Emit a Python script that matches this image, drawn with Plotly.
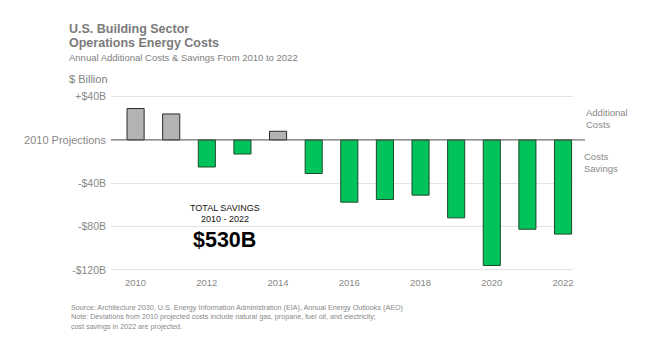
import plotly.graph_objects as go

years = list(range(2010, 2023))
values = [29, 24, -25, -13, 8, -31, -57.5, -55, -51, -72, -116, -82.5, -87]
y_tick_vals = [40, 0, -40, -80, -120]
y_tick_text = ["+$40B", "<span style='font-size:11px'>2010 Projections</span>", "-$40B", "-$80B", "-$120B"]
x_tick_vals = [2010, 2012, 2014, 2016, 2018, 2020, 2022]

GRAY = "#b3b3b3"
GREEN = "#00c35c"
fills = [GRAY if v > 0 else GREEN for v in values]
edges = ["#2b2b2b" if v > 0 else "#1c4a2a" for v in values]

FONT = "Arial, Liberation Sans, sans-serif"

fig = go.Figure(go.Bar(
    x=years, y=values, width=0.48,
    marker=dict(color=fills, line=dict(color=edges, width=1)),
    hoverinfo="skip",
))

annotations = [
    dict(text="<b>U.S. Building Sector</b>", x=-0.0952, y=1.374, font=dict(size=12.5, color="#7a7a7a")),
    dict(text="<b>Operations Energy Costs</b>", x=-0.0952, y=1.294, font=dict(size=12.5, color="#7a7a7a")),
    dict(text="Annual Additional Costs &amp; Savings From 2010 to 2022", x=-0.0952, y=1.212, font=dict(size=9.5, color="#808080")),
    dict(text="$ Billion", x=-0.0952, y=1.09, font=dict(size=11, color="#808080")),
    dict(text="Additional<br>Costs", x=1.024, y=0.87, font=dict(size=9.5, color="#888888")),
    dict(text="Costs<br>Savings", x=1.020, y=0.62, font=dict(size=9.5, color="#888888")),
    dict(text="Source: Architecture 2030, U.S. Energy Information Administration (EIA), Annual Energy Outlooks (AEO)<br>"
              "Note: Deviations from 2010 projected costs include natural gas, propane, fuel oil, and electricity;<br>"
              "cost savings in 2022 are projected.",
         x=-0.091, y=-0.162, yanchor="top", font=dict(size=7.2, color="#888888")),
]
for a in annotations:
    a.setdefault("yanchor", "middle")
    a.update(xref="paper", yref="paper", xanchor="left", align="left", showarrow=False)

annotations += [
    dict(text="TOTAL SAVINGS", x=2012.51, y=-62.8, font=dict(size=9, color="#111111")),
    dict(text="2010 - 2022", x=2012.51, y=-73, font=dict(size=9, color="#111111")),
    dict(text="<b>$530B</b>", x=2012.51, y=-92, font=dict(size=21.5, color="#000000")),
]
for a in annotations[-3:]:
    a.update(xref="x", yref="y", xanchor="center", yanchor="middle", showarrow=False)

fig.update_layout(
    width=653, height=355,
    margin=dict(l=103, r=88, t=87, b=91),
    paper_bgcolor="white", plot_bgcolor="white",
    font=dict(family=FONT),
    showlegend=False,
    annotations=annotations,
    shapes=[dict(type="line", xref="paper", yref="y", x0=0, x1=1.026, y0=0, y1=0,
                 line=dict(color="#555555", width=1), layer="above")],
    bargap=0.5,
)
fig.update_xaxes(range=[2009.31, 2022.28], tickvals=x_tick_vals, showgrid=False, zeroline=False,
                 showline=False, ticks="", tickfont=dict(size=9.5, color="#888888"), ticklabelstandoff=3)
fig.update_yaxes(range=[-122, 41.5], tickvals=y_tick_vals, ticktext=y_tick_text, showgrid=True,
                 gridcolor="#e3e3e3", gridwidth=1, zeroline=False, showline=False, ticks="",
                 tickfont=dict(size=10.5, color="#888888"), ticklabelstandoff=4)

fig.write_html("out.html")
